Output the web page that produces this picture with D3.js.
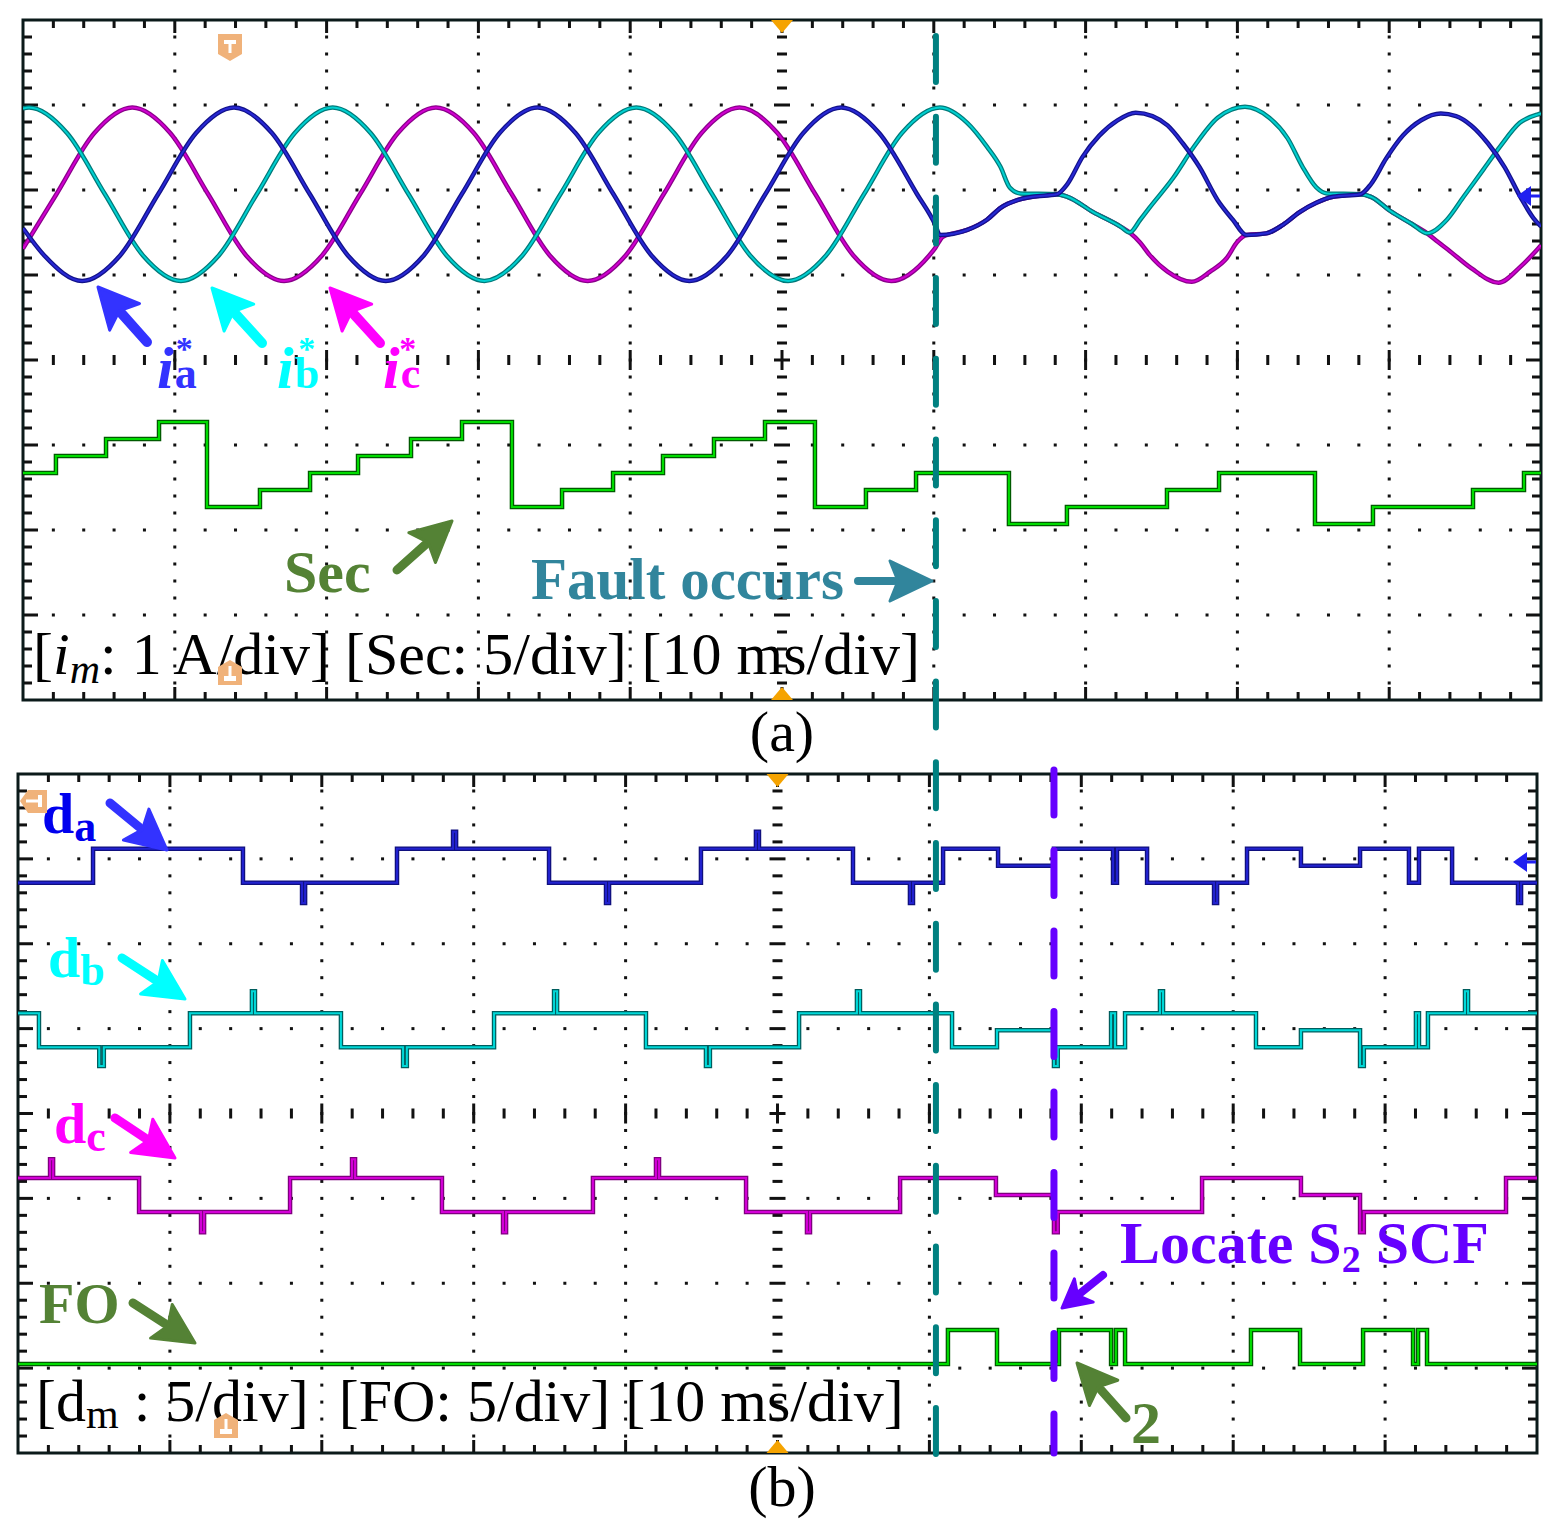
<!DOCTYPE html>
<html>
<head>
<meta charset="utf-8">
<title>Fault waveforms</title>
<script src="https://cdn.jsdelivr.net/npm/d3@7/dist/d3.min.js"></script>
<style>
  body { margin: 0; background: #fff; }
  svg { display: block; }
  text { font-family: "Liberation Serif", "Times New Roman", serif; white-space: pre; }
</style>
</head>
<body>
<div id="vis"></div>
<script>
// ---- data: time in ms (10 ms/div), currents in A, others in units ----
var iaPts = [
  [0,-0.40],[1.4,-0.72],[3.9,-1.02],[6.4,-0.72],[8.9,0],[11.4,0.72],[13.9,1.02],[16.4,0.72],[18.9,0],
  [21.4,-0.72],[23.9,-1.02],[26.4,-0.72],[28.9,0],[31.4,0.72],[33.9,1.02],[36.4,0.72],[38.9,0],
  [41.4,-0.72],[43.9,-1.02],[46.4,-0.72],[48.9,0],[51.4,0.72],[53.9,1.02],[56.4,0.72],[58.9,0],[60.1,-0.36],
  [60.4,-0.48],[62.2,-0.42],[63.5,-0.30],[64.4,-0.16],[65.5,-0.07],[66.5,-0.03],[68.1,0.0],
  [68.8,0.12],[69.8,0.44],[70.9,0.69],[72.1,0.87],[73.3,0.96],[74.4,0.92],[75.4,0.81],[76.4,0.60],
  [77.5,0.32],[78.7,-0.07],[79.7,-0.30],[80.6,-0.48],
  [81.9,-0.46],[83.0,-0.36],[84.1,-0.21],[85.2,-0.10],[86.3,-0.03],[88.1,0.0],
  [88.8,0.12],[89.8,0.42],[90.9,0.69],[92.1,0.87],[93.4,0.95],[94.4,0.92],[95.4,0.81],[96.5,0.60],
  [97.6,0.32],[98.7,-0.05],[99.5,-0.28],[100,-0.38]
];
var ibPts = [
  [0,1.01],[0.4,1.02],[2.9,0.72],[5.4,0],[7.9,-0.72],[10.4,-1.02],[12.9,-0.72],[15.4,0],[17.9,0.72],
  [20.4,1.02],[22.9,0.72],[25.4,0],[27.9,-0.72],[30.4,-1.02],[32.9,-0.72],[35.4,0],[37.9,0.72],
  [40.4,1.02],[42.9,0.72],[45.4,0],[47.9,-0.72],[50.4,-1.02],[52.9,-0.72],[55.4,0],[57.9,0.72],[60.4,1.02],
  [62.2,0.84],[63.5,0.56],[64.4,0.32],[65.0,0.08],[65.7,0.01],[68.1,0.0],
  [68.8,-0.03],[70.5,-0.21],[72.3,-0.38],[72.9,-0.45],[73.6,-0.30],[74.2,-0.16],[75.8,0.20],[77.1,0.55],
  [78.7,0.90],[80.5,1.03],
  [82.1,0.90],[83.3,0.66],[84.3,0.32],[85.2,0.08],[85.9,0.01],[88.1,0.0],
  [88.8,-0.03],[90.1,-0.20],[91.5,-0.35],[92.5,-0.46],[93.8,-0.30],[94.9,-0.03],[96.2,0.29],[97.3,0.56],
  [98.6,0.84],[99.8,0.94],[100,0.95]
];
var icPts = [
  [0,-0.64],[2.2,0],[4.7,0.72],[7.2,1.02],[9.7,0.72],[12.2,0],[14.7,-0.72],[17.2,-1.02],[19.7,-0.72],
  [22.2,0],[24.7,0.72],[27.2,1.02],[29.7,0.72],[32.2,0],[34.7,-0.72],[37.2,-1.02],[39.7,-0.72],
  [42.2,0],[44.7,0.72],[47.2,1.02],[49.7,0.72],[52.2,0],[54.7,-0.72],[57.2,-1.02],[59.7,-0.72],[60.1,-0.63],
  [60.6,-0.50],[62.2,-0.42],[63.5,-0.30],[64.4,-0.16],[65.5,-0.07],[66.5,-0.03],[68.1,0.0],
  [68.8,-0.03],[70.5,-0.21],[72.3,-0.38],[72.9,-0.45],[73.6,-0.57],[74.2,-0.71],[75.4,-0.91],[77.0,-1.03],
  [78.2,-0.91],[79.3,-0.75],[80.0,-0.56],[80.6,-0.48],
  [81.9,-0.46],[83.0,-0.36],[84.1,-0.21],[85.2,-0.10],[86.3,-0.03],[88.1,0.0],
  [88.8,-0.03],[90.1,-0.20],[91.5,-0.35],[92.5,-0.46],[93.2,-0.56],[94.0,-0.67],[95.4,-0.87],[97.2,-1.04],
  [98.6,-0.86],[99.8,-0.64],[100,-0.60]
];
// sector number, step after each time
var secPts = [
  [0,3],[2.17,4],[5.47,5],[8.96,6],[12.12,1],[15.61,2],[18.91,3],[22.07,4],[25.56,5],[28.92,6],
  [32.21,1],[35.51,2],[38.87,3],[42.16,4],[45.52,5],[48.88,6],[52.17,1],[55.53,2],[58.83,3],
  [64.95,0],[68.77,1],[75.36,2],[78.79,3],[85.11,0],[88.93,1],[95.52,2],[98.88,3],[100,3]
];
// switching states d_m (1 / 0 / -1, with glitches)
var daPts = [
  [0,-1],[4.94,1],[14.81,-1],[18.70,-2.2],[18.90,-1],[24.95,1],[28.64,2],[28.84,1],[34.96,-1],
  [38.71,-2.2],[38.91,-1],[44.96,1],[48.58,2],[48.78,1],[54.97,-1],[58.72,-2.2],[58.92,-1],
  [60.90,1],[64.52,0],[68.20,1],[72.09,-1],[72.35,1],[74.33,-1],[78.74,-2.2],[78.94,-1],[80.91,1],
  [84.46,0],[88.35,1],[91.57,-1],[92.23,1],[94.41,-1],[98.75,-2.2],[98.95,-1],[100,-1]
];
var dbPts = [
  [0,1],[1.38,-1],[5.35,-2.1],[5.65,-1],[11.32,1],[15.40,2.3],[15.60,1],[21.26,-1],[25.35,-2.1],
  [25.60,-1],[31.34,1],[35.29,2.3],[35.49,1],[41.34,-1],[45.29,-2.1],[45.55,-1],[51.42,1],
  [55.23,2.3],[55.43,1],[61.49,-1],[64.45,0],[68.20,-2.1],[68.45,-1],[71.96,1],[72.22,-1],
  [72.88,1],[75.18,2.3],[75.38,1],[81.50,-1],[84.46,0],[88.35,-2.1],[88.60,-1],[92.03,1],
  [92.23,-1],[92.82,1],[95.26,2.3],[95.46,1],[100,1]
];
var dcPts = [
  [0,1],[2.11,2.1],[2.31,1],[7.97,-1],[12.05,-2.2],[12.25,-1],[17.91,1],[21.99,2.1],[22.19,1],
  [27.91,-1],[31.93,-2.2],[32.13,-1],[37.85,1],[42.00,2.1],[42.20,1],[47.93,-1],[51.94,-2.2],
  [52.14,-1],[58.07,1],[64.38,0],[68.20,-2.2],[68.45,-1],[77.95,1],[84.46,0],[88.35,-2.2],
  [88.60,-1],[97.96,1],[100,1]
];
var foPts = [
  [0,0],[61.22,2],[64.45,0],[68.53,2],[71.96,0],[72.28,2],[72.88,0],[81.17,2],[84.40,0],
  [88.55,2],[91.84,0],[92.17,2],[92.76,0],[100,0]
];
var faultT = 60.14;   // ms, panel (a) time base
var locateT = 68.2;   // ms, panel (b) time base

var W = 1559, H = 1536;
var svg = d3.select("#vis").append("svg").attr("width", W).attr("height", H);

var xA = d3.scaleLinear().domain([0, 100]).range([23, 1541]);
var yA = d3.scaleLinear().domain([-4, 4]).range([700, 20]);
var xB = d3.scaleLinear().domain([0, 100]).range([18, 1537]);
var yB = d3.scaleLinear().domain([-4, 4]).range([1453, 774]);

function drawScope(id, x, y) {
  var g = svg.append("g");
  var ink = "#111";
  var dots = [];
  d3.range(1, 10).forEach(function(k) {
    if (k === 5) return;
    d3.range(-19, 20).forEach(function(j) { dots.push([k * 10, j * 0.2]); });
  });
  d3.range(-3, 4).forEach(function(j) {
    if (j === 0) return;
    d3.range(1, 50).forEach(function(i) { if (i % 5) dots.push([i * 2, j]); });
  });
  g.selectAll("rect.dot").data(dots).enter().append("rect")
    .attr("x", function(d) { return x(d[0]) - 1.5; })
    .attr("y", function(d) { return y(d[1]) - 1.5; })
    .attr("width", 3).attr("height", 3).attr("fill", ink);

  // centre lines
  g.selectAll("rect.ch").data(d3.range(1, 50)).enter().append("rect")
    .attr("x", function(i) { return x(i * 2) - 1.5; })
    .attr("y", function(i) { return y(0) - (i % 5 ? 5 : 10); })
    .attr("width", 3).attr("height", function(i) { return i % 5 ? 10 : 20; })
    .attr("fill", ink);
  g.selectAll("rect.cv").data(d3.range(-19, 20)).enter().append("rect")
    .attr("x", function(j) { return x(50) - (j % 5 ? 5 : 8); })
    .attr("y", function(j) { return y(j * 0.2) - 1.5; })
    .attr("width", function(j) { return j % 5 ? 10 : 16; }).attr("height", 3)
    .attr("fill", ink);

  // border ticks
  var xt = d3.range(1, 50);
  [y(4), y(-4)].forEach(function(yy, s) {
    g.selectAll("rect.xt" + s).data(xt).enter().append("rect")
      .attr("x", function(i) { return x(i * 2) - 1.5; })
      .attr("y", function(i) { var L = i % 5 ? 8 : 13; return s ? yy - L : yy; })
      .attr("width", 3).attr("height", function(i) { return i % 5 ? 8 : 13; })
      .attr("fill", ink);
  });
  var yt = d3.range(-19, 20);
  [x(0), x(100)].forEach(function(xx, s) {
    g.selectAll("rect.yt" + s).data(yt).enter().append("rect")
      .attr("x", function(j) { var L = j % 5 ? 9 : 15; return s ? xx - L : xx; })
      .attr("y", function(j) { return y(j * 0.2) - 1.5; })
      .attr("width", function(j) { return j % 5 ? 9 : 15; }).attr("height", 3)
      .attr("fill", ink);
  });
  g.append("rect")
    .attr("x", x(0)).attr("y", y(4))
    .attr("width", x(100) - x(0)).attr("height", y(-4) - y(4))
    .attr("fill", "none").attr("stroke", "#0b1a1a").attr("stroke-width", 3);

  svg.append("clipPath").attr("id", id).append("rect")
    .attr("x", x(0)).attr("y", y(4))
    .attr("width", x(100) - x(0)).attr("height", y(-4) - y(4));
  return svg.append("g").attr("clip-path", "url(#" + id + ")");
}

function trace(g, pts, x, yf, under, over, curve) {
  var line = d3.line()
    .x(function(d) { return x(d[0]); })
    .y(function(d) { return yf(d[1]); })
    .curve(curve);
  g.append("path").datum(pts).attr("d", line).attr("fill", "none")
    .attr("stroke", under).attr("stroke-width", 4.5);
  g.append("path").datum(pts).attr("d", line).attr("fill", "none")
    .attr("stroke", over).attr("stroke-width", 2);
}

// ---- panel (a) ----
var gA = drawScope("clipA", xA, yA);
var iOff = 1.95, secOff = -1.93;
function yCur(v) { return yA(iOff + v); }
trace(gA, icPts, xA, yCur, "#8a008a", "#d000d0", d3.curveMonotoneX);
trace(gA, ibPts, xA, yCur, "#007a7a", "#00d0d0", d3.curveMonotoneX);
trace(gA, iaPts, xA, yCur, "#12128a", "#2828d4", d3.curveMonotoneX);
trace(gA, secPts, xA, function(v) { return yA(secOff + v * 0.2); }, "#005a00", "#00dd00", d3.curveStepAfter);

// ---- panel (b) ----
var gB = drawScope("clipB", xB, yB);
function yState(off) { return function(v) { return yB(off + v * 0.2); }; }
trace(gB, daPts, xB, yState(2.92), "#10107e", "#2222d0", d3.curveStepAfter);
trace(gB, dbPts, xB, yState(0.98), "#005e5e", "#00d8d8", d3.curveStepAfter);
trace(gB, dcPts, xB, yState(-0.96), "#7e007e", "#d400d8", d3.curveStepAfter);
trace(gB, foPts, xB, yState(-2.95), "#005a00", "#00dd00", d3.curveStepAfter);

// ---- arrows ----
function arrow(x1, y1, x2, y2, color, w, hl, hw) {
  var dx = x2 - x1, dy = y2 - y1, L = Math.sqrt(dx * dx + dy * dy);
  var ux = dx / L, uy = dy / L, px = -uy, py = ux;
  var bx = x2 - ux * hl, by = y2 - uy * hl;
  svg.append("line").attr("x1", x1).attr("y1", y1)
    .attr("x2", bx + ux * 4).attr("y2", by + uy * 4)
    .attr("stroke", color).attr("stroke-width", w).attr("stroke-linecap", "round");
  svg.append("path")
    .attr("d", "M" + x2 + "," + y2 + "L" + (bx + px * hw / 2) + "," + (by + py * hw / 2) +
      "L" + (bx + ux * 8) + "," + (by + uy * 8) +
      "L" + (bx - px * hw / 2) + "," + (by - py * hw / 2) + "Z")
    .attr("fill", color).attr("stroke", color).attr("stroke-width", 3).attr("stroke-linejoin", "round");
}

var green = "#548235";
arrow(147, 342, 98, 287, "#3333ff", 10, 40, 40);
arrow(262, 343, 212, 288, "#00ffff", 10, 40, 40);
arrow(380, 343, 330, 288, "#ff00ff", 10, 40, 40);
arrow(397, 570, 452, 521, green, 9, 40, 40);
arrow(858, 581, 932, 581, "#31859c", 8, 42, 40);
arrow(110, 803, 167, 850, "#3333ff", 9, 40, 40);
arrow(122, 958, 185, 999, "#00ffff", 9, 40, 40);
arrow(115, 1118, 175, 1158, "#ff00ff", 9, 40, 40);
arrow(133, 1303, 195, 1343, green, 9, 40, 40);
arrow(1103, 1275, 1062, 1308, "#6600ff", 8, 28, 30);
arrow(1126, 1418, 1077, 1363, green, 9, 40, 38);

// ---- labels ----
function iLabel(x, sub, color) {
  var t = svg.append("text").attr("x", x).attr("y", 388).attr("font-size", 60)
    .attr("font-weight", "bold").attr("fill", color);
  t.append("tspan").attr("font-style", "italic").text("i");
  t.append("tspan").attr("font-size", 44).attr("dx", 1).text(sub);
  t.append("tspan").attr("font-size", 34).attr("dx", -21).attr("dy", -28).text("*");
}
iLabel(157, "a", "#3333ff");
iLabel(277, "b", "#00ffff");
iLabel(383, "c", "#ff00ff");

function dLabel(x, y, sub, color) {
  var t = svg.append("text").attr("x", x).attr("y", y).attr("font-size", 58)
    .attr("font-weight", "bold").attr("fill", color);
  t.append("tspan").text("d");
  t.append("tspan").attr("font-size", 44).attr("dy", 8).text(sub);
}
dLabel(42, 833, "a", "#0000ee");
dLabel(48, 977, "b", "#00ffff");
dLabel(54, 1143, "c", "#ff00ff");

svg.append("text").attr("x", 284).attr("y", 592).attr("font-size", 60)
  .attr("font-weight", "bold").attr("fill", green).text("Sec");
svg.append("text").attr("x", 531).attr("y", 599).attr("font-size", 59)
  .attr("font-weight", "bold").attr("fill", "#31859c").text("Fault occurs");
svg.append("text").attr("x", 39).attr("y", 1323).attr("font-size", 58)
  .attr("font-weight", "bold").attr("fill", green).text("FO");
svg.append("text").attr("x", 1131).attr("y", 1443).attr("font-size", 60)
  .attr("font-weight", "bold").attr("fill", green).text("2");

var loc = svg.append("text").attr("x", 1120).attr("y", 1263).attr("font-size", 60)
  .attr("font-weight", "bold").attr("fill", "#6600ff");
loc.append("tspan").text("Locate S");
loc.append("tspan").attr("font-size", 38).attr("dy", 9).text("2");
loc.append("tspan").attr("dy", -9).text(" SCF");

var ta = svg.append("text").attr("x", 33).attr("y", 674).attr("font-size", 60).attr("fill", "#000");
ta.append("tspan").text("[");
ta.append("tspan").attr("font-style", "italic").text("i");
ta.append("tspan").attr("font-style", "italic").attr("font-size", 42).attr("dy", 9).text("m");
ta.append("tspan").attr("dy", -9).text(": 1 A/div] [Sec: 5/div] [10 ms/div]");

var tb = svg.append("text").attr("x", 36).attr("y", 1421).attr("font-size", 60).attr("fill", "#000");
tb.append("tspan").text("[d");
tb.append("tspan").attr("font-size", 42).attr("dy", 7).text("m");
tb.append("tspan").attr("dy", -7).text(" : 5/div]  [FO: 5/div] [10 ms/div]");

svg.append("text").attr("x", 782).attr("y", 751).attr("font-size", 58)
  .attr("text-anchor", "middle").text("(a)");
svg.append("text").attr("x", 782).attr("y", 1506).attr("font-size", 58)
  .attr("text-anchor", "middle").text("(b)");

// ---- scope markers ----
var trig = "#f0b27a", tri = "#f5a300";
function markDown(cx, top) {
  svg.append("path").attr("d", "M" + (cx - 12) + "," + top + "H" + (cx + 12) + "V" + (top + 20) +
    "L" + cx + "," + (top + 27) + "L" + (cx - 12) + "," + (top + 20) + "Z").attr("fill", trig);
  svg.append("rect").attr("x", cx - 6).attr("y", top + 6).attr("width", 12).attr("height", 4).attr("fill", "#fff");
  svg.append("rect").attr("x", cx - 1.5).attr("y", top + 6).attr("width", 3).attr("height", 13).attr("fill", "#fff");
}
function markUp(cx, bottom) {
  svg.append("path").attr("d", "M" + (cx - 12) + "," + bottom + "H" + (cx + 12) + "V" + (bottom - 18) +
    "L" + cx + "," + (bottom - 25) + "L" + (cx - 12) + "," + (bottom - 18) + "Z").attr("fill", trig);
  svg.append("rect").attr("x", cx - 6).attr("y", bottom - 9).attr("width", 12).attr("height", 5).attr("fill", "#fff");
  svg.append("rect").attr("x", cx - 1.5).attr("y", bottom - 19).attr("width", 3).attr("height", 12).attr("fill", "#fff");
}
markDown(230, 34);
markUp(230, 685);
markUp(226, 1438);
svg.append("path").attr("d", "M20,801L28,790H47V813H28Z").attr("fill", trig);
svg.append("rect").attr("x", 26).attr("y", 799.5).attr("width", 13).attr("height", 3).attr("fill", "#fff");
svg.append("rect").attr("x", 38).attr("y", 795).attr("width", 4).attr("height", 12).attr("fill", "#fff");

function triMark(cx, yb, dir) {
  svg.append("path").attr("d", "M" + (cx - 11) + "," + yb + "H" + (cx + 11) + "L" + cx + "," + (yb + dir * 13) + "Z")
    .attr("fill", tri);
}
triMark(xA(50), yA(4), 1);
triMark(xA(50), yA(-4), -1);
triMark(xB(50), yB(4), 1);
triMark(xB(50), yB(-4), -1);

function gndMark(xr, yc) {
  svg.append("path").attr("d", "M" + (xr - 24) + "," + yc + "L" + (xr - 10) + "," + (yc - 10) + "V" + (yc + 10) + "Z")
    .attr("fill", "#2020f0");
  svg.append("rect").attr("x", xr - 11).attr("y", yc - 1.5).attr("width", 10).attr("height", 3).attr("fill", "#2020f0");
}
gndMark(1541, 196);
gndMark(1537, 862);

// ---- event lines ----
svg.append("line")
  .attr("x1", xA(faultT)).attr("x2", xA(faultT)).attr("y1", 36).attr("y2", 1456)
  .attr("stroke", "#008080").attr("stroke-width", 6).attr("stroke-linecap", "round")
  .attr("stroke-dasharray", "46 34.7");
svg.append("line")
  .attr("x1", xB(locateT)).attr("x2", xB(locateT)).attr("y1", 770).attr("y2", 1453)
  .attr("stroke", "#6600ff").attr("stroke-width", 7).attr("stroke-linecap", "round")
  .attr("stroke-dasharray", "45 35.5");
</script>
</body>
</html>
